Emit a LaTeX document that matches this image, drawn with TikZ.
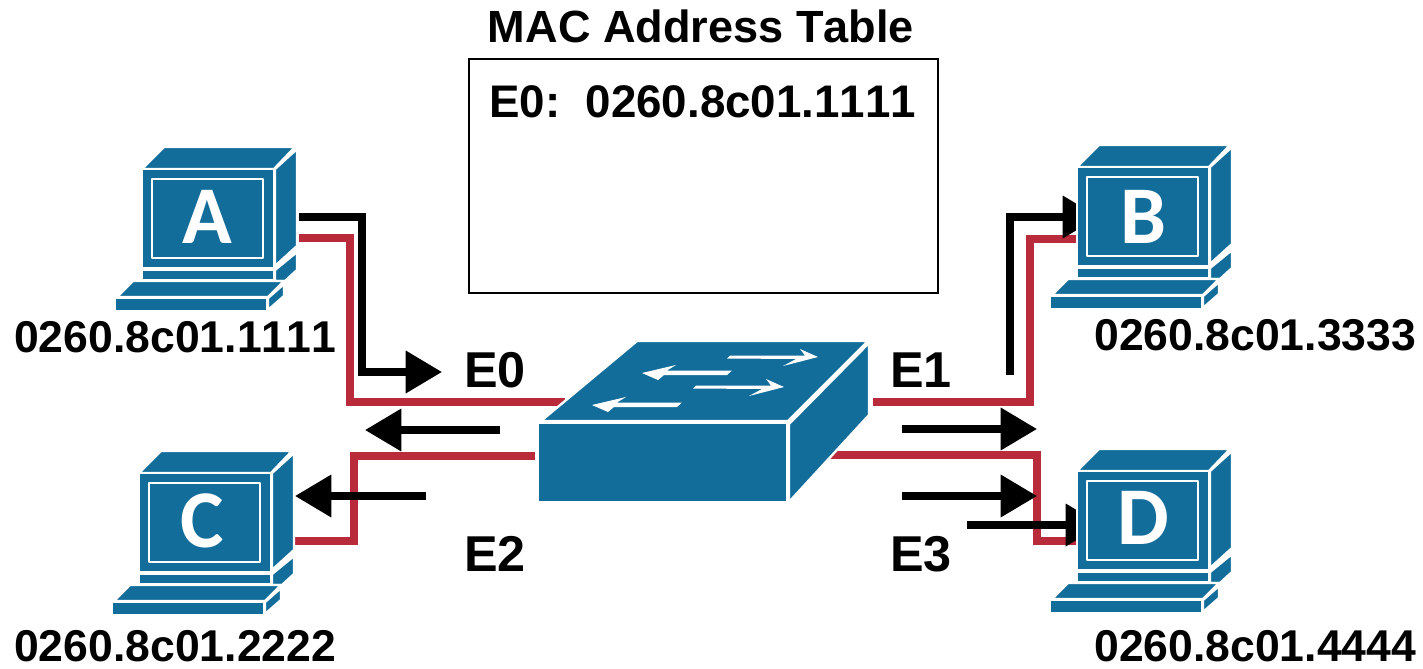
\documentclass[tikz,border=0pt]{standalone}
\usepackage{fontspec}
\setmainfont[Kerning=Off]{Liberation Sans}
\newfontfamily\letterfont{Carlito}
\usetikzlibrary{arrows.meta}
\definecolor{ciscoblue}{HTML}{136D9B}
\definecolor{wirered}{HTML}{B92B3B}
\tikzset{
	face/.style={fill=ciscoblue,draw=white,line width=2pt,line join=round},
	wire/.style={draw=wirered,line width=6pt},
	bar/.style={draw=black,line width=6pt},
	flow/.style={bar,-{Triangle[length=31pt,width=35pt]}},
	glyph/.style={fill=white},
	addr/.style={anchor=base west,inner sep=0pt,font=\bfseries\fontsize{38}{40}\selectfont},
	port/.style={anchor=base west,inner sep=0pt,font=\bfseries\fontsize{43}{45}\selectfont},
	letter/.style={inner sep=0pt,text=white,font=\letterfont\bfseries\fontsize{70}{72}\selectfont}
}

\begin{document}
\begin{tikzpicture}[x=0.03cm, y=-0.03cm]
	\useasboundingbox (0,0) rectangle (1423,668);
	%la table
	\node[anchor=base,inner sep=0pt,font=\bfseries\fontsize{38.5}{41}\selectfont] (title) at (701,42) {MAC Address Table};
	\draw[line width=2.5pt] (469,59) rectangle (938,293);
	\node[addr,font=\bfseries\fontsize{39}{41}\selectfont] (entry) at (489,117) {E0:\ \ 0260.8c01.1111};
	%les points des fils
	\coordinate (Ared) at (299,238);
	\coordinate (E0red) at (350,402);
	\coordinate (swE0) at (565,402);
	\coordinate (Cred) at (295,541);
	\coordinate (E2red) at (354,456);
	\coordinate (swE2) at (535,456);
	\coordinate (swE1) at (873,402);
	\coordinate (E1red) at (1030,239);
	\coordinate (Bred) at (1078,239);
	\coordinate (swE3) at (830,455);
	\coordinate (E3red) at (1037,541);
	\coordinate (Dred) at (1078,541);
	%les fils
	\draw[wire] (Ared) -| (E0red) -- (swE0);
	\draw[wire] (Cred) -| (E2red) -- (swE2);
	\draw[wire] (swE1) -| (E1red) -- (Bred);
	\draw[wire] (swE3) -| (E3red) -- (Dred);
	%les fleches
	\coordinate (Ablack) at (299,217);
	\coordinate (Abend) at (362,372);
	\coordinate (Atip) at (442,372);
	\coordinate (E0from) at (500,430);
	\coordinate (E0tip) at (365,430);
	\coordinate (E2from) at (426,496);
	\coordinate (E2tip) at (295,496);
	\coordinate (E1from) at (1010,375);
	\coordinate (E1bend) at (1010,217);
	\coordinate (Btip) at (1099,217);
	\coordinate (E1out) at (902,429);
	\coordinate (E1tip) at (1037,429);
	\coordinate (E3out) at (902,496);
	\coordinate (E3tip) at (1037,496);
	\coordinate (E3from) at (967,525);
	\coordinate (Dtip) at (1102,525);
	\draw[flow] (Ablack) -| (Abend) -- (Atip);
	\draw[flow] (E0from) -- (E0tip);
	\draw[flow] (E2from) -- (E2tip);
	\draw[flow] (E1from) -- (E1bend) -- (Btip);
	\draw[flow] (E1out) -- (E1tip);
	\draw[flow] (E3out) -- (E3tip);
	\draw[flow] (E3from) -- (Dtip);
	%les ordinateurs
	\foreach \name/\dx/\dy/\lx/\ly in {A/0/0/207/217,B/935/-2/1143/217,C/-3/304/202/521,D/935/302/1143/518} {
		\begin{scope}[shift={(\dx,\dy)}]
			\draw[face] (142,169) -- (164,147) -- (295,147) -- (274,169) -- cycle;
			\draw[face] (142,169) rectangle (274,268);
			\draw[face,line width=2.5pt] (152,179) rectangle (263,258);
			\draw[face] (275,169) -- (297,149) -- (297,246) -- (275,266) -- cycle;
			\draw[face] (142,270) rectangle (274,280);
			\draw[face] (275,270) -- (297,252) -- (297,270) -- (285,281) -- (275,281) -- cycle;
			\draw[face] (117,297) -- (133,281) -- (284,281) -- (268,297) -- cycle;
			\draw[face] (115,298) rectangle (267,311);
			\draw[face] (268,298) -- (284,284) -- (284,296) -- (268,310) -- cycle;
		\end{scope}
		\node[letter] (\name) at (\lx,\ly) {\name};
	}
	%le commutateur
	\draw[face] (541,421) -- (637,341) -- (868,341) -- (788,421) -- cycle;
	\draw[face] (538,423) rectangle (787,502);
	\draw[face] (789,424) -- (869,343) -- (869,415) -- (789,502) -- cycle;
	\fill[glyph] (727,358.5) -- (730,355.5) -- (805,355.5) -- (800,349) -- (818,357) -- (783,366) -- (796,359) -- cycle;
	\fill[glyph] (693,388.5) -- (696,385.5) -- (771,385.5) -- (766,379) -- (784,387) -- (749,396) -- (762,389) -- cycle;
	\fill[glyph] (732,370.5) -- (727,375) -- (664,375) -- (658,380) -- (642,373) -- (676,365) -- (667,370.5) -- cycle;
	\fill[glyph] (682,402.5) -- (677,407) -- (614,407) -- (608,412) -- (592,405) -- (626,397) -- (617,402.5) -- cycle;
	%les etiquettes
	\node[addr] (addrA) at (14,352) {0260.8c01.1111};
	\node[addr] (addrB) at (1094,350) {0260.8c01.3333};
	\node[addr] (addrC) at (14,661) {0260.8c01.2222};
	\node[addr] (addrD) at (1094,661) {0260.8c01.4444};
	\node[port] (E0) at (464,387) {E0};
	\node[port] (E1) at (890,387) {E1};
	\node[port] (E2) at (464,571) {E2};
	\node[port] (E3) at (890,571) {E3};
\end{tikzpicture}
\end{document}
